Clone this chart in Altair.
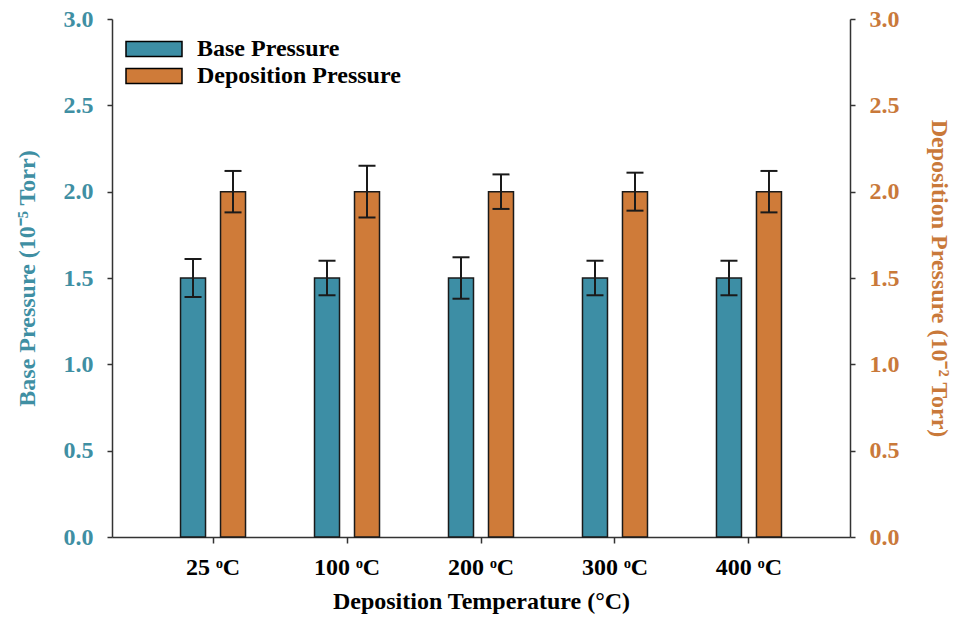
import altair as alt
import pandas as pd

# Deposition temperatures (x categories)
temps = ["25 ᵒC", "100 ᵒC", "200 ᵒC", "300 ᵒC", "400 ᵒC"]

# Base pressure (10^-5 Torr) and its error
base_vals = [1.5, 1.5, 1.5, 1.5, 1.5]
base_err = [0.11, 0.10, 0.12, 0.10, 0.10]

# Deposition pressure (10^-2 Torr) and its error
dep_vals = [2.0, 2.0, 2.0, 2.0, 2.0]
dep_err = [0.12, 0.15, 0.10, 0.11, 0.12]

series = ["Base Pressure", "Deposition Pressure"]
teal = "#3D8EA5"
orange = "#CF7B39"
teal_txt = "#3F8FA3"
orange_txt = "#C9793A"
FONT = "Liberation Serif"
FS = 24


def frame(vals, errs, name):
    return pd.DataFrame({
        "temp": temps,
        "series": name,
        "value": vals,
        "lo": [v - e for v, e in zip(vals, errs)],
        "hi": [v + e for v, e in zip(vals, errs)],
    })


base_df = frame(base_vals, base_err, series[0])
dep_df = frame(dep_vals, dep_err, series[1])

x_enc = alt.X(
    "temp:N", sort=temps,
    scale=alt.Scale(paddingInner=0, paddingOuter=0.254),
    axis=alt.Axis(title="Deposition Temperature (°C)", labelAngle=0,
                  labelColor="black", titleColor="black", tickSize=6,
                  labelPadding=12, titlePadding=10, domainColor="#333",
                  tickColor="#333", domainWidth=1.5, tickWidth=1.5),
)
xoff = alt.XOffset("series:N", sort=series,
                   scale=alt.Scale(domain=series, paddingInner=0.375, paddingOuter=0.8625))
color_enc = alt.Color(
    "series:N", sort=series,
    scale=alt.Scale(domain=series, range=[teal, orange]),
    legend=alt.Legend(
        title=None, orient="none", legendX=27, legendY=15,
        symbolType="M-2,-0.54H2V0.54H-2Z", symbolSize=784,
        symbolStrokeColor="black", symbolStrokeWidth=1.5, symbolOpacity=1,
        labelFont=FONT, labelFontSize=FS, labelFontWeight="bold",
        labelColor="black", labelOffset=28, rowPadding=0, labelLimit=400,
    ),
)


def series_layer(df, axis):
    y_scale = alt.Scale(domain=[0, 3], nice=False, zero=True)
    bars = alt.Chart(df).mark_bar(
        stroke="#1a1a1a", strokeWidth=1.5, size=25, opacity=1
    ).encode(
        x=x_enc, xOffset=xoff,
        y=alt.Y("value:Q", scale=y_scale, axis=axis),
        color=color_enc,
    )
    stem = alt.Chart(df).mark_rule(color="#1a1a1a", strokeWidth=2).encode(
        x=x_enc, xOffset=xoff,
        y=alt.Y("lo:Q", scale=y_scale), y2="hi:Q",
    )
    cap_hi = alt.Chart(df).mark_tick(color="#1a1a1a", thickness=2, size=17, opacity=1).encode(
        x=x_enc, xOffset=xoff, y=alt.Y("hi:Q", scale=y_scale),
    )
    cap_lo = alt.Chart(df).mark_tick(color="#1a1a1a", thickness=2, size=17, opacity=1).encode(
        x=x_enc, xOffset=xoff, y=alt.Y("lo:Q", scale=y_scale),
    )
    return alt.layer(bars, stem, cap_hi, cap_lo)


tick_vals = [0, 0.5, 1.0, 1.5, 2.0, 2.5, 3.0]
left_axis = alt.Axis(
    title="Base Pressure  (10⁻⁵ Torr)", orient="left", values=tick_vals,
    format=".1f", grid=False, labelColor=teal_txt, titleColor=teal_txt,
    tickSize=5, labelPadding=14, titlePadding=24, domainColor="#333",
    tickColor="#333", domainWidth=1.5, tickWidth=1.5,
)
right_axis = alt.Axis(
    title="Deposition Pressure  (10⁻² Torr)", orient="right", values=tick_vals,
    format=".1f", grid=False, labelColor=orange_txt, titleColor=orange_txt,
    tickSize=5, labelPadding=14, titlePadding=27, domainColor="#333",
    tickColor="#333", domainWidth=1.5, tickWidth=1.5,
)

chart = alt.layer(
    series_layer(base_df, left_axis),
    series_layer(dep_df, right_axis),
).resolve_scale(
    y="independent"
).properties(
    width=738, height=518,
    background="white",
    autosize=alt.AutoSizeParams(type="none"),
    padding={"left": 112, "top": 19, "right": 107, "bottom": 86},
).configure_view(
    stroke=None
).configure_axis(
    labelFont=FONT, labelFontSize=FS, labelFontWeight="bold",
    titleFont=FONT, titleFontSize=FS, titleFontWeight="bold",
)

chart.save("out.html", embed_options={"renderer": "svg", "actions": False})
